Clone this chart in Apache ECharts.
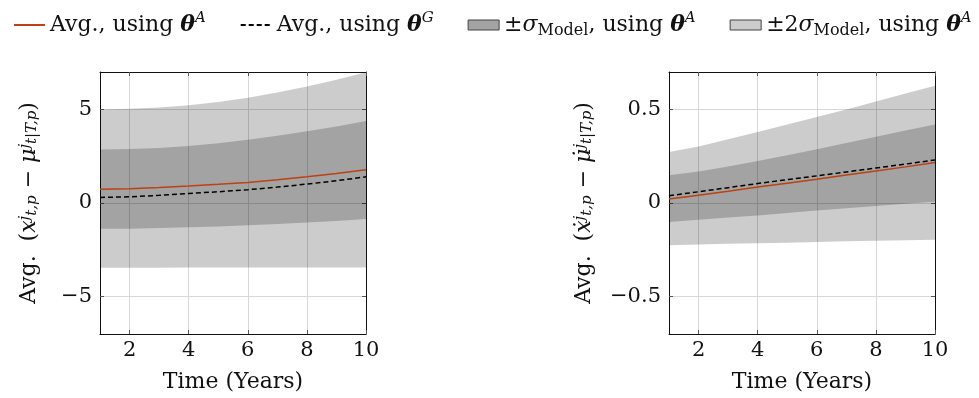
<!DOCTYPE html>
<html>
<head>
<meta charset="utf-8">
<script src="https://cdn.jsdelivr.net/npm/echarts@6/dist/echarts.min.js"></script>
<style>
  html, body { margin: 0; padding: 0; background: #fff; }
  #chart { width: 979px; height: 398px; }
</style>
</head>
<body>
<div id="chart"></div>
<script>
var years = [1, 2, 3, 4, 5, 6, 7, 8, 9, 10];
var xTicks = [2, 4, 6, 8, 10];

// left panel: x - mu
var leftTicks = [-5, 0, 5];
var leftAvgA = [0.74, 0.76, 0.83, 0.91, 1.00, 1.10, 1.24, 1.40, 1.58, 1.78];
var leftAvgG = [0.30, 0.33, 0.41, 0.51, 0.60, 0.71, 0.85, 1.01, 1.19, 1.40];
var leftSig1Lo = [-1.38, -1.37, -1.34, -1.30, -1.25, -1.19, -1.12, -1.04, -0.96, -0.86];
var leftSig1Hi = [2.86, 2.88, 2.94, 3.04, 3.19, 3.38, 3.59, 3.83, 4.09, 4.38];
var leftSig2Lo = [-3.46, -3.46, -3.46, -3.45, -3.45, -3.45, -3.45, -3.44, -3.44, -3.44];
var leftSig2Hi = [5.00, 5.03, 5.10, 5.22, 5.40, 5.62, 5.90, 6.22, 6.58, 6.98];

// right panel: xdot - mudot
var rightTicks = [-0.5, 0, 0.5];
var rightAvgA = [0.021, 0.042, 0.063, 0.085, 0.106, 0.127, 0.149, 0.171, 0.193, 0.216];
var rightAvgG = [0.039, 0.060, 0.082, 0.104, 0.125, 0.145, 0.166, 0.187, 0.208, 0.230];
var rightSig1Lo = [-0.102, -0.090, -0.078, -0.067, -0.053, -0.040, -0.028, -0.016, -0.004, 0.007];
var rightSig1Hi = [0.148, 0.168, 0.195, 0.224, 0.255, 0.287, 0.320, 0.354, 0.387, 0.420];
var rightSig2Lo = [-0.226, -0.222, -0.218, -0.215, -0.212, -0.208, -0.205, -0.202, -0.199, -0.196];
var rightSig2Hi = [0.272, 0.302, 0.340, 0.380, 0.420, 0.460, 0.500, 0.542, 0.585, 0.627];

var FONT = 'DejaVu Serif';
var RED = '#bb4212';

var nameA = 'Avg., using θA';
var nameG = 'Avg., using θG';
var nameS1 = '±σModel, using θA';
var nameS2 = '±2σModel, using θA';

var legendRich = {
    t: { fontFamily: FONT, fontSize: 22, color: '#111', lineHeight: 28 },
    th: { fontFamily: FONT, fontSize: 22, color: '#111', fontWeight: 'bold', fontStyle: 'italic', lineHeight: 28 },
    i: { fontFamily: FONT, fontSize: 22, color: '#111', fontStyle: 'italic', lineHeight: 28 },
    sup: { fontFamily: FONT, fontSize: 15, color: '#111', fontStyle: 'italic', lineHeight: 15, verticalAlign: 'top' },
    sub: { fontFamily: FONT, fontSize: 16, color: '#111', lineHeight: 15, verticalAlign: 'bottom' }
};
var legendText = {};
legendText[nameA] = '{t|Avg., using }{th|θ}{sup|A}';
legendText[nameG] = '{t|Avg., using }{th|θ}{sup|G}';
legendText[nameS1] = '{t|±}{i|σ}{sub|Model}{t|, using }{th|θ}{sup|A}';
legendText[nameS2] = '{t|±2}{i|σ}{sub|Model}{t|, using }{th|θ}{sup|A}';

function pairs(ys) {
    return years.map(function (x, k) { return [x, ys[k]]; });
}
function minusFmt(v) {
    return v < 0 ? '\u2212' + Math.abs(v) : String(v);
}

// filled band between lo and hi, drawn once as a single polygon
function bandSeries(name, gi, lo, hi, z) {
    return {
        type: 'custom', name: name, coordinateSystem: 'cartesian2d',
        xAxisIndex: gi * 2, yAxisIndex: gi * 2, silent: true, z: z,
        itemStyle: { color: '#000' },
        data: years.map(function (x, k) { return [x, lo[k], hi[k]]; }),
        encode: { x: 0, y: [1, 2] },
        renderItem: function (params, api) {
            if (params.dataIndex !== 0) return null;
            var pts = [];
            for (var k = 0; k < years.length; k++) pts.push(api.coord([years[k], hi[k]]));
            for (var k = years.length - 1; k >= 0; k--) pts.push(api.coord([years[k], lo[k]]));
            return {
                type: 'polygon',
                shape: { points: pts },
                style: { fill: '#000', opacity: 0.2 }
            };
        }
    };
}

var grids = [], xAxes = [], yAxes = [], series = [];

function panel(gi, left, yMin, yMax, yTicks, yName, yGap, d) {
    grids.push({ left: left, top: 72, width: 266, height: 264, containLabel: false });
    var axisText = { fontFamily: FONT, fontSize: 21, color: '#111' };
    var tick = { show: true, inside: true, length: 4, lineStyle: { color: '#555', width: 1 } };
    var line = { show: true, onZero: false, lineStyle: { color: '#111', width: 1 } };
    xAxes.push({
        type: 'value', gridIndex: gi, position: 'bottom', min: 1, max: 10,
        axisLine: line,
        axisTick: Object.assign({ customValues: xTicks }, tick),
        axisLabel: Object.assign({ customValues: xTicks, margin: 6 }, axisText),
        splitLine: { show: true, lineStyle: { color: '#d8d8d8', width: 1 } },
        name: 'Time (Years)', nameLocation: 'middle', nameGap: 37,
        nameTextStyle: { fontFamily: FONT, fontSize: 22, color: '#111' }
    });
    xAxes.push({
        type: 'value', gridIndex: gi, position: 'top', min: 1, max: 10,
        axisLine: line,
        axisTick: Object.assign({ customValues: xTicks }, tick),
        axisLabel: { show: false }, splitLine: { show: false }
    });
    yAxes.push({
        type: 'value', gridIndex: gi, position: 'left', min: yMin, max: yMax,
        axisLine: line,
        axisTick: Object.assign({ customValues: yTicks }, tick),
        axisLabel: Object.assign({ customValues: yTicks, margin: 8, formatter: minusFmt }, axisText),
        splitLine: { show: true, lineStyle: { color: '#d8d8d8', width: 1 } },
        name: yName, nameLocation: 'middle', nameRotate: 90, nameGap: yGap,
        nameTextStyle: { rich: {
            t: { fontFamily: FONT, fontSize: 22, color: '#111' },
            i: { fontFamily: FONT, fontSize: 22, color: '#111', fontStyle: 'italic' },
            sup: { fontFamily: FONT, fontSize: 15, color: '#111', fontStyle: 'italic', verticalAlign: 'top', lineHeight: 14 },
            sub: { fontFamily: FONT, fontSize: 15, color: '#111', fontStyle: 'italic', verticalAlign: 'bottom', lineHeight: 14 }
        } }
    });
    yAxes.push({
        type: 'value', gridIndex: gi, position: 'right', min: yMin, max: yMax,
        axisLine: line,
        axisTick: Object.assign({ customValues: yTicks }, tick),
        axisLabel: { show: false }, splitLine: { show: false }
    });
    var xi = gi * 2, yi = gi * 2;
    series.push(bandSeries(nameS2, gi, d.s2lo, d.s2hi, 1));
    series.push(bandSeries(nameS1, gi, d.s1lo, d.s1hi, 2));
    series.push({
        type: 'line', name: nameA, xAxisIndex: xi, yAxisIndex: yi, symbol: 'none',
        itemStyle: { color: RED }, lineStyle: { color: RED, width: 1.5 }, data: pairs(d.avgA), z: 4
    });
    series.push({
        type: 'line', name: nameG, xAxisIndex: xi, yAxisIndex: yi, symbol: 'none',
        itemStyle: { color: '#000' }, lineStyle: { color: '#000', width: 1.5, type: [5, 3] }, data: pairs(d.avgG), z: 3
    });
}

panel(0, 100, -7, 7, leftTicks,
    '{t|Avg.  (}{i|x}{sup|j}{sub|t,p}{t| − }{i|μ}{sup|j}{sub|t|T,p}{t|)}', 60,
    { avgA: leftAvgA, avgG: leftAvgG, s1lo: leftSig1Lo, s1hi: leftSig1Hi, s2lo: leftSig2Lo, s2hi: leftSig2Hi });
panel(1, 669, -0.7, 0.7, rightTicks,
    '{t|Avg.  (}{i|ẋ}{sup|j}{sub|t,p}{t| − }{i|μ̇}{sup|j}{sub|t|T,p}{t|)}', 74,
    { avgA: rightAvgA, avgG: rightAvgG, s1lo: rightSig1Lo, s1hi: rightSig1Hi, s2lo: rightSig2Lo, s2hi: rightSig2Hi });

var chart = echarts.init(document.getElementById('chart'), null, { renderer: 'canvas' });
chart.setOption({
    animation: false,
    backgroundColor: '#fff',
    legend: {
        left: 8, top: 6,
        itemWidth: 31, itemHeight: 10, itemGap: 34,
        selectedMode: false,
        data: [
            { name: nameA, itemStyle: { opacity: 0 } },
            { name: nameG, itemStyle: { opacity: 0 } },
            { name: nameS1, icon: 'rect', itemStyle: { color: '#a3a3a3', borderColor: '#444', borderWidth: 1 } },
            { name: nameS2, icon: 'rect', itemStyle: { color: '#cccccc', borderColor: '#444', borderWidth: 1 } }
        ],
        formatter: function (n) { return legendText[n]; },
        textStyle: { fontFamily: FONT, fontSize: 22, color: '#111', rich: legendRich }
    },
    grid: grids,
    xAxis: xAxes,
    yAxis: yAxes,
    series: series
});
</script>
</body>
</html>
